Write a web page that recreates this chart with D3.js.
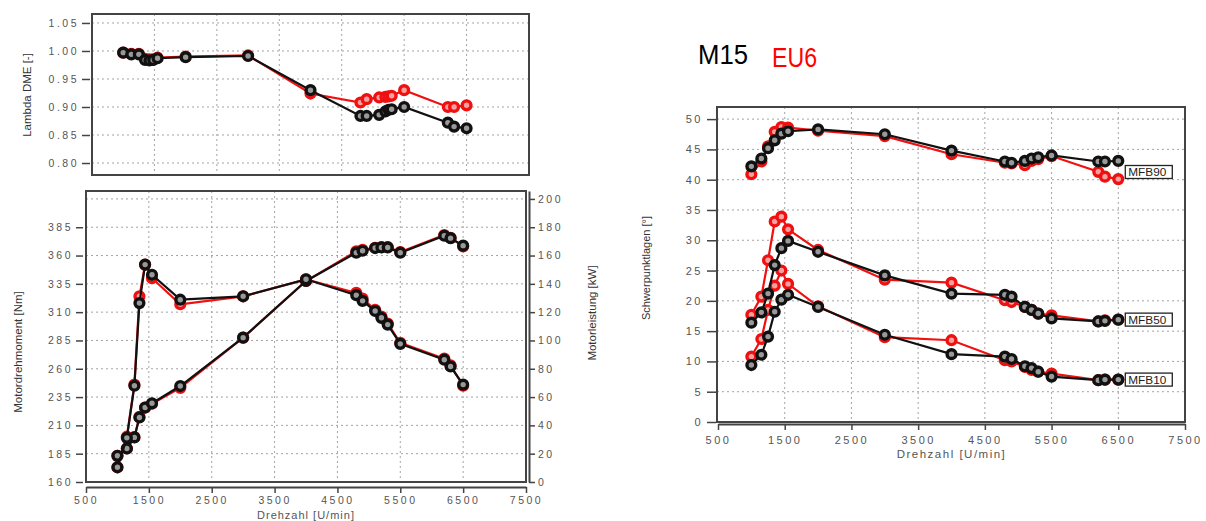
<!DOCTYPE html>
<html>
<head>
<meta charset="utf-8">
<script src="https://cdn.jsdelivr.net/npm/d3@7"></script>
<style>
body { margin: 0; background: #fff; }
svg text { font-family: "Liberation Sans", Arial, sans-serif; }
</style>
</head>
<body>
<div id="chart"></div>
<script>
// --- data (M15 = black, EU6 = red) ---
const rpmLambda = [1000, 1130, 1250, 1350, 1420, 1480, 1550, 2000, 3000, 4000, 4800, 4900, 5100, 5200, 5250, 5300, 5500, 6200, 6300, 6500];
const lambdaM15 = [0.997, 0.994, 0.994, 0.984, 0.983, 0.984, 0.987, 0.989, 0.991, 0.930, 0.884, 0.884, 0.886, 0.892, 0.895, 0.896, 0.900, 0.872, 0.865, 0.862];
const lambdaEU6 = [0.997, 0.995, 0.995, 0.986, 0.985, 0.985, 0.988, 0.990, 0.992, 0.924, 0.908, 0.914, 0.917, 0.918, 0.919, 0.920, 0.930, 0.900, 0.900, 0.903];

const rpmVoll = [1000, 1150, 1270, 1350, 1440, 1550, 2000, 3000, 4000, 4800, 4900, 5100, 5200, 5300, 5500, 6200, 6300, 6500];
const torqueM15 = [173, 199, 245, 318, 352, 343, 321, 324, 339, 325, 320, 311, 305, 299, 282, 268, 262, 246];
const torqueEU6 = [173, 200, 246, 324, 352, 340, 317, 324, 339, 327, 322, 312, 306, 300, 283, 269, 263, 245];
const powerM15 = [18.5, 23.7, 31.5, 45.6, 52.6, 55.6, 67.8, 102, 142, 162, 163.4, 165.3, 165.7, 165.7, 162, 174, 172.3, 167];
const powerEU6 = [18.5, 23.7, 31.7, 46, 52.6, 55.3, 66.5, 102, 142, 163, 164, 165.5, 166, 166, 162.5, 174.5, 172.5, 166.5];

const rpmMfb = [1000, 1150, 1250, 1350, 1450, 1550, 2000, 3000, 4000, 4800, 4900, 5100, 5200, 5300, 5500, 6200, 6300, 6500];
const mfb90M15 = [42.2, 43.5, 45.2, 46.5, 47.6, 48.0, 48.3, 47.5, 44.8, 43.0, 42.8, 43.1, 43.5, 43.7, 44.0, 43.0, 43.0, 43.1];
const mfb90EU6 = [40.9, 43.0, 45.5, 47.9, 48.7, 48.6, 48.1, 47.2, 44.2, 42.8, 42.7, 42.4, 43.1, 43.4, 43.9, 41.3, 40.5, 40.1];
const mfb50M15 = [16.4, 18.1, 21.2, 25.9, 28.7, 29.9, 28.1, 24.2, 21.2, 21.0, 20.7, 19.0, 18.5, 17.9, 17.1, 16.6, 16.7, 16.9];
const mfb50EU6 = [17.7, 20.7, 26.7, 33.1, 33.9, 31.8, 28.4, 23.5, 23.0, 20.1, 19.8, 19.0, 18.5, 17.9, 17.6, 16.6, 16.8, 16.9];
const mfb10M15 = [9.4, 11.1, 14.1, 18.2, 20.2, 21.0, 19.0, 14.4, 11.2, 10.8, 10.4, 9.2, 8.9, 8.3, 7.5, 6.9, 7.0, 7.0];
const mfb10EU6 = [10.8, 13.7, 18.5, 22.5, 25.0, 22.8, 19.1, 14.0, 13.5, 10.2, 10.0, 9.1, 8.6, 8.3, 8.0, 6.9, 7.0, 7.0];
const mfbNames = ["MFB90", "MFB50", "MFB10"];

const rpmTicks = [500, 1500, 2500, 3500, 4500, 5500, 6500, 7500];
const lambdaTicks = [0.80, 0.85, 0.90, 0.95, 1.00, 1.05];
const torqueTicks = [160, 185, 210, 235, 260, 285, 310, 335, 360, 385];
const powerTicks = [0, 20, 40, 60, 80, 100, 120, 140, 160, 180, 200];
const mfbTicks = [0, 5, 10, 15, 20, 25, 30, 35, 40, 45, 50];

const BLACK = "#111", RED = "#f01010";
const intFmt = d3.format("d");

var svg = d3.select("#chart").append("svg")
	.attr("width", 1206)
	.attr("height", 521);

// grid for a plot box
function drawBox(box, x, y, xt, yt) {
	var g = svg.append("g");
	g.append("rect")
		.attr("x", box.l).attr("y", box.t)
		.attr("width", box.r - box.l).attr("height", box.b - box.t)
		.attr("fill", "#fff");
	g.selectAll(".gx").data(xt).join("line")
		.attr("x1", d => x(d)).attr("x2", d => x(d))
		.attr("y1", box.t).attr("y2", box.b)
		.attr("stroke", "#9a9a9a").attr("stroke-dasharray", "2,3").attr("stroke-width", 0.9);
	g.selectAll(".gy").data(yt).join("line")
		.attr("x1", box.l).attr("x2", box.r)
		.attr("y1", d => y(d)).attr("y2", d => y(d))
		.attr("stroke", "#9a9a9a").attr("stroke-dasharray", "2,3").attr("stroke-width", 0.9);
	return g;
}

function drawFrame(box) {
	svg.append("rect")
		.attr("x", box.l).attr("y", box.t)
		.attr("width", box.r - box.l).attr("height", box.b - box.t)
		.attr("fill", "none").attr("stroke", "#444").attr("stroke-width", 2);
}

function styleAxis(g, size) {
	g.select(".domain").attr("stroke", "#444").attr("stroke-width", 2);
	g.selectAll(".tick line").attr("stroke", "#444").attr("stroke-width", 1.5);
	g.selectAll(".tick text")
		.attr("fill", "#555")
		.style("font-size", (size || 10.5) + "px")
		.style("letter-spacing", "2.5px");
}

function series(xs, ys, x, y, color, ring) {
	var pts = xs.map((d, i) => [d, ys[i]]);
	var g = svg.append("g");
	g.append("path").datum(pts)
		.attr("d", d3.line().x(d => x(d[0])).y(d => y(d[1])))
		.attr("fill", "none").attr("stroke", color).attr("stroke-width", 2.2);
	g.selectAll("circle").data(pts).join("circle")
		.attr("cx", d => x(d[0])).attr("cy", d => y(d[1]))
		.attr("r", 4.4)
		.attr("fill", ring)
		.attr("stroke", color).attr("stroke-width", 3.4);
}

function vLabel(text, cx, cy, size) {
	svg.append("text")
		.attr("transform", `translate(${cx},${cy}) rotate(-90)`)
		.attr("text-anchor", "middle")
		.attr("fill", "#333")
		.style("font-size", size + "px")
		.text(text);
}

// ---------- Lambda (top left) ----------
var boxL = {l: 92, r: 529, t: 14, b: 175};
var xL = d3.scaleLinear().domain([500, 7500]).range([boxL.l, boxL.r]);
var yL = d3.scaleLinear().domain([0.7786, 1.066]).range([boxL.b, boxL.t]);
drawBox(boxL, xL, yL, rpmTicks.slice(1, -1), lambdaTicks);
series(rpmLambda, lambdaEU6, xL, yL, RED, "#f7a0a0");
series(rpmLambda, lambdaM15, xL, yL, BLACK, "#999");
drawFrame(boxL);
svg.append("g").attr("transform", `translate(${boxL.l - 2},0)`)
	.call(d3.axisLeft(yL).tickValues(lambdaTicks).tickFormat(d3.format(".2f")).tickSize(8).tickSizeOuter(0).tickPadding(3))
	.call(g => g.select(".domain").remove())
	.call(g => styleAxis(g));
vLabel("Lambda DME [-]", 31, 95, 11.5);

// ---------- Torque / power (bottom left) ----------
var boxT = {l: 86, r: 526, t: 191, b: 482};
var xT = d3.scaleLinear().domain([500, 7500]).range([boxT.l, boxT.r]);
var yT = d3.scaleLinear().domain([160, 417]).range([boxT.b, boxT.t]);
var yP = d3.scaleLinear().domain([0, 205.6]).range([boxT.b, boxT.t]);
drawBox(boxT, xT, yP, rpmTicks.slice(1, -1), powerTicks.slice(1));
series(rpmVoll, powerEU6, xT, yP, RED, "#f7a0a0");
series(rpmVoll, torqueEU6, xT, yT, RED, "#f7a0a0");
series(rpmVoll, powerM15, xT, yP, BLACK, "#999");
series(rpmVoll, torqueM15, xT, yT, BLACK, "#999");
drawFrame(boxT);
svg.append("g").attr("transform", `translate(${boxT.l - 3},0)`)
	.call(d3.axisLeft(yT).tickValues(torqueTicks).tickFormat(intFmt).tickSize(7).tickSizeOuter(0).tickPadding(3))
	.call(g => g.select(".domain").remove())
	.call(g => styleAxis(g));
svg.append("g").attr("transform", `translate(${boxT.r + 3},0)`)
	.call(d3.axisRight(yP).tickValues(powerTicks).tickFormat(intFmt).tickSize(6).tickSizeOuter(0).tickPadding(3))
	.call(g => styleAxis(g));
svg.append("g").attr("transform", `translate(0,${boxT.b + 5})`)
	.call(d3.axisBottom(xT).tickValues(rpmTicks).tickFormat(intFmt).tickSize(6).tickSizeOuter(0).tickPadding(4))
	.call(g => styleAxis(g));
svg.append("text")
	.attr("x", xT(4000)).attr("y", 519)
	.attr("text-anchor", "middle").attr("fill", "#555")
	.style("font-size", "11px").style("letter-spacing", "1px")
	.text("Drehzahl [U/min]");
vLabel("Motordrehmoment [Nm]", 22, 352, 11.5);
vLabel("Motorleistung [kW]", 596, 313, 11.5);

// ---------- MFB (right) ----------
var boxM = {l: 717, r: 1185, t: 107, b: 422};
var xM = d3.scaleLinear().domain([500, 7500]).range([boxM.l + 1, boxM.r]);
var yM = d3.scaleLinear().domain([0, 52]).range([boxM.b, boxM.t]);
drawBox(boxM, xM, yM, rpmTicks.slice(1, -1), mfbTicks.slice(1));
var mfbM15 = [mfb90M15, mfb50M15, mfb10M15];
var mfbEU6 = [mfb90EU6, mfb50EU6, mfb10EU6];
mfbEU6.forEach(s => series(rpmMfb, s, xM, yM, RED, "#f7a0a0"));
mfbM15.forEach(s => series(rpmMfb, s, xM, yM, BLACK, "#999"));
drawFrame(boxM);
svg.append("g").attr("transform", `translate(${boxM.l - 1},0)`)
	.call(d3.axisLeft(yM).tickValues(mfbTicks).tickFormat(intFmt).tickSize(9).tickSizeOuter(0).tickPadding(4))
	.call(g => g.select(".domain").remove())
	.call(g => styleAxis(g, 11));
svg.append("g").attr("transform", `translate(0,${boxM.b + 2})`)
	.call(d3.axisBottom(xM).tickValues(rpmTicks).tickFormat(intFmt).tickSize(6).tickSizeOuter(0).tickPadding(6))
	.call(g => styleAxis(g, 11));
svg.append("text")
	.attr("x", xM(4000)).attr("y", 458)
	.attr("text-anchor", "middle").attr("fill", "#555")
	.style("font-size", "11.5px").style("letter-spacing", "1.5px")
	.text("Drehzahl [U/min]");
vLabel("Schwerpunktlagen [°]", 650, 268, 11);

// curve tags at the right end
mfbNames.forEach((name, i) => {
	var last = rpmMfb.length - 1;
	var cy = yM((mfbM15[i][last] + mfbEU6[i][last]) / 2) + (i === 0 ? 2 : 0);
	var g = svg.append("g");
	g.append("rect")
		.attr("x", xM(6500) + 7).attr("y", cy - 6.5)
		.attr("width", 47).attr("height", 13)
		.attr("fill", "#fff").attr("stroke", "#222").attr("stroke-width", 1.3);
	g.append("text")
		.attr("x", xM(6500) + 10).attr("y", cy + 4)
		.attr("fill", "#222").style("font-size", "10px")
		.attr("textLength", 38).attr("lengthAdjust", "spacingAndGlyphs")
		.text(name);
});

// title
svg.append("text").attr("x", 698).attr("y", 64)
	.style("font-size", "27px").attr("fill", "#000")
	.attr("textLength", 50).attr("lengthAdjust", "spacingAndGlyphs")
	.text("M15");
svg.append("text").attr("x", 772).attr("y", 67)
	.style("font-size", "27px").attr("fill", "#f00")
	.attr("textLength", 45).attr("lengthAdjust", "spacingAndGlyphs")
	.text("EU6");
</script>
</body>
</html>
